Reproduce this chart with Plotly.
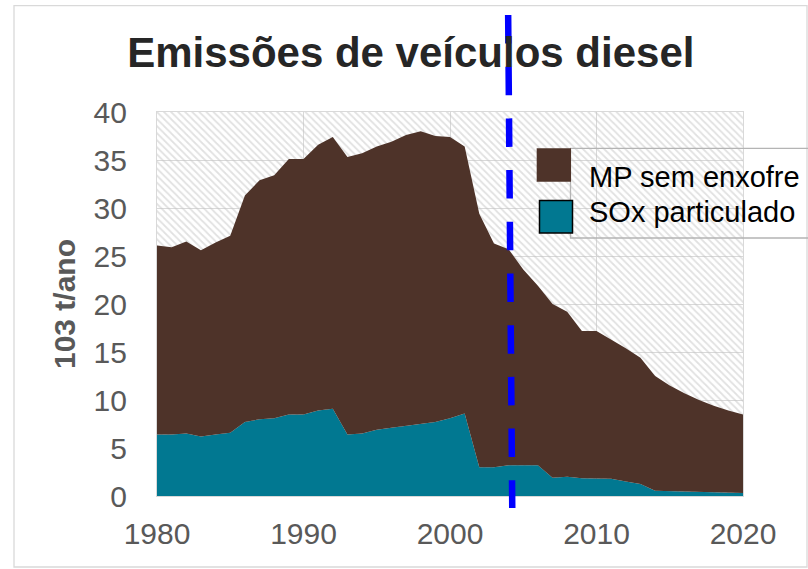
import plotly.graph_objects as go

# ---- data ----
anos = [1980, 1981, 1982, 1983, 1984, 1985, 1986, 1987, 1988, 1989,
        1990, 1991, 1992, 1993, 1994, 1995, 1996, 1997, 1998, 1999,
        2000, 2001, 2002, 2003, 2004, 2005, 2006, 2007, 2008, 2009,
        2010, 2011, 2012, 2013, 2014, 2015, 2016, 2017, 2018, 2019, 2020]

sox_particulado = [6.4, 6.4, 6.5, 6.2, 6.4, 6.6, 7.7, 8.0, 8.1, 8.5,
                   8.5, 8.9, 9.1, 6.4, 6.5, 6.9, 7.1, 7.3, 7.5, 7.7,
                   8.1, 8.6, 3.0, 3.0, 3.2, 3.2, 3.2, 1.9, 2.0, 1.85,
                   1.85, 1.8, 1.5, 1.25, 0.55, 0.5, 0.45, 0.4, 0.35, 0.3, 0.3]

mp_sem_enxofre = [19.7, 19.5, 20.0, 19.4, 20.0, 20.5, 23.6, 24.9, 25.3, 26.6,
                  26.6, 27.7, 28.3, 28.9, 29.2, 29.5, 29.8, 30.3, 30.5, 29.8,
                  29.3, 27.8, 26.4, 23.3, 22.5, 20.4, 18.7, 18.1, 17.2, 15.35,
                  15.35, 14.5, 13.9, 13.15, 11.95, 11.0, 10.25, 9.6, 9.05, 8.6, 8.2]

nomes_series = ["MP sem enxofre", "SOx particulado"]
titulo = "Emissões de veículos diesel"
titulo_y = "103 t/ano"
x_ticks = [1980, 1990, 2000, 2010, 2020]
y_ticks = [0, 5, 10, 15, 20, 25, 30, 35, 40]
ano_marco = [2003.97, 2004.25]   # dashed reference line (slightly slanted in source)

# ---- style ----
FONT = "Liberation Sans, Arial, sans-serif"
COR_MP = "#4E3329"
COR_SOX = "#017891"
GRID = "#d9d9d9"

x_range = [x_ticks[0], x_ticks[-1]]
y_range = [y_ticks[0], y_ticks[-1]]

fig = go.Figure()

# hatched plot-area background
fig.add_trace(go.Scatter(
    x=x_range, y=[y_range[1], y_range[1]],
    mode="lines", line=dict(width=0), fill="tozeroy",
    fillcolor="rgba(0,0,0,0)",
    fillpattern=dict(shape="\\", fgcolor="#c4c4c4", bgcolor="rgba(0,0,0,0)",
                     size=5, solidity=0.35, fillmode="overlay"),
    hoverinfo="skip", showlegend=False,
))

fig.add_trace(go.Scatter(
    x=anos, y=sox_particulado, name=nomes_series[1],
    stackgroup="one", mode="lines", line=dict(width=0, color=COR_SOX),
    fillcolor=COR_SOX, showlegend=False,
))
fig.add_trace(go.Scatter(
    x=anos, y=mp_sem_enxofre, name=nomes_series[0],
    stackgroup="one", mode="lines", line=dict(width=0, color=COR_MP),
    fillcolor=COR_MP, showlegend=False,
))

L, R, T, B = 157, 65, 112, 73
W, H = 808, 569
pw, ph = W - L - R, H - T - B


def px_x(p):
    return (p - L) / pw


def px_y(p):
    return (H - B - p) / ph


shapes = []
# outer chart border
shapes.append(dict(type="rect", xref="paper", yref="paper",
                   x0=px_x(14), x1=px_x(807), y0=px_y(567), y1=px_y(5.7),
                   line=dict(color=GRID, width=1.3), layer="below"))
# dashed vertical reference line
shapes.append(dict(type="line", xref="x", yref="paper",
                   x0=ano_marco[0], x1=ano_marco[1], y0=px_y(15), y1=px_y(508),
                   line=dict(color="#0000FF", width=6.5, dash="28.5px,23.2px"),
                   layer="above"))
# legend box
shapes.append(dict(type="rect", xref="paper", yref="paper",
                   x0=px_x(570.5), x1=px_x(840), y0=px_y(238), y1=px_y(148.3),
                   line=dict(color="#b4b4b4", width=1.3), layer="above"))
# legend swatches
shapes.append(dict(type="rect", xref="paper", yref="paper",
                   x0=px_x(536.7), x1=px_x(571), y0=px_y(181.7), y1=px_y(148.3),
                   fillcolor=COR_MP, line=dict(width=0), layer="above"))
shapes.append(dict(type="rect", xref="paper", yref="paper",
                   x0=px_x(539.5), x1=px_x(572.5), y0=px_y(233), y1=px_y(200.5),
                   fillcolor=COR_SOX, line=dict(color="#000000", width=1.5), layer="above"))

annotations = [
    dict(xref="paper", yref="paper", x=px_x(587), y=px_y(176.7),
         text=nomes_series[0], showarrow=False, xanchor="left", yanchor="middle",
         font=dict(family=FONT, size=29, color="#000000")),
    dict(xref="paper", yref="paper", x=px_x(587), y=px_y(211.7),
         text=nomes_series[1], showarrow=False, xanchor="left", yanchor="middle",
         font=dict(family=FONT, size=29, color="#000000")),
]

fig.update_layout(
    width=W, height=H, autosize=False,
    margin=dict(l=L, r=R, t=T, b=B, pad=0),
    paper_bgcolor="white", plot_bgcolor="white",
    title=dict(text="<b>" + titulo + "</b>", x=410.8 / W, xanchor="center",
               y=1 - 52 / H, yanchor="middle", yref="container",
               font=dict(family=FONT, size=42, color="#262626")),
    showlegend=False,
    shapes=shapes,
    annotations=annotations,
    font=dict(family=FONT, color="#595959"),
)

fig.update_xaxes(
    range=x_range, tickvals=x_ticks, ticks="", showgrid=True, gridcolor=GRID,
    gridwidth=1.3, zeroline=False, showline=True, linecolor=GRID, linewidth=1.3,
    mirror=True, tickfont=dict(family=FONT, size=30, color="#595959"),
    ticklabelstandoff=11,
)
fig.update_yaxes(
    range=y_range, tickvals=y_ticks, ticks="", showgrid=True, gridcolor=GRID,
    gridwidth=1.3, zeroline=False, showline=True, linecolor=GRID, linewidth=1.3,
    mirror=True, tickfont=dict(family=FONT, size=30, color="#595959"),
    ticklabelstandoff=23,
    title=dict(text="<b>" + titulo_y + "</b>", standoff=8,
               font=dict(family=FONT, size=30, color="#595959")),
)

fig.write_html(
    "out.html",
    config={"displayModeBar": False},
    post_script="document.body.style.margin='0';document.body.style.overflow='hidden';",
)
